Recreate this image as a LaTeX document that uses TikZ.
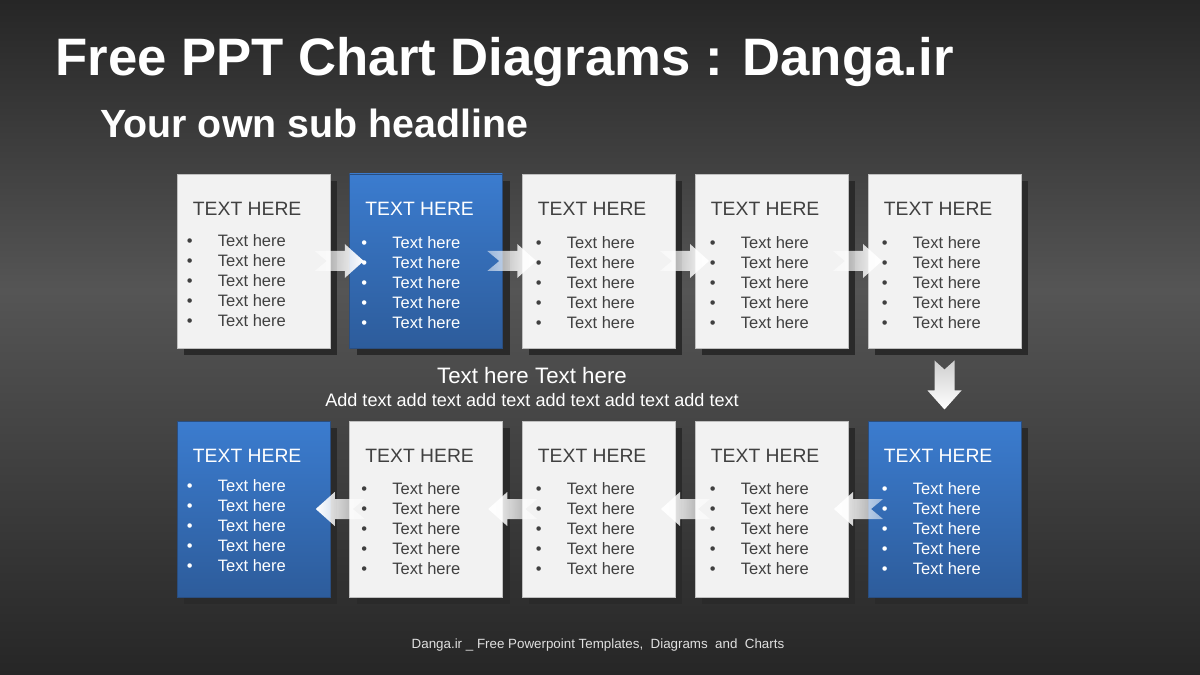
\documentclass[tikz,border=0pt]{standalone}
\usepackage{fontspec}
\setmainfont{Liberation Sans}
\usetikzlibrary{calc,fadings}
\definecolor{bgtop}{HTML}{262626}
\definecolor{bgmid}{HTML}{555555}
\definecolor{bgbot}{HTML}{262626}
\definecolor{lightfill}{HTML}{F2F2F2}
\definecolor{boxedge}{HTML}{BFBFBF}
\definecolor{bluetop}{HTML}{3B7CCF}
\definecolor{bluebot}{HTML}{2D5C9B}
\definecolor{blueedge}{HTML}{2A4E80}
\definecolor{shadowc}{HTML}{2A2A2A}
\definecolor{darktext}{HTML}{404040}
\definecolor{arrowtop}{HTML}{CFCFCF}
\pgfdeclareverticalshading{bgshade}{100bp}{color(0bp)=(bgbot); color(25bp)=(bgbot); color(53.5bp)=(bgmid); color(75bp)=(bgtop); color(100bp)=(bgtop)}
\tikzfading[name=fadeR, left color=transparent!50, right color=transparent!0]
\tikzfading[name=fadeL, left color=transparent!0, right color=transparent!50]
% #1 name, #2 text colour, #3 first baseline offset, #4 text x offset
\newcommand\fillbox[4]{%
  \node[anchor=base west, text=#2, font=\fontsize{11}{13}\selectfont, inner sep=0] (#1-t) at ($(#1.north west)+(16,42)$) {TEXT HERE};
  \foreach \k in {0,...,4} {
    \node[anchor=base west, text=#2, font=\fontsize{9.4}{11}\selectfont, inner sep=0] (#1-b\k) at ($(#1.north west)+(#4-31,#3+20*\k)$) {•};
    \node[anchor=base west, text=#2, font=\fontsize{9.4}{11}\selectfont, inner sep=0] (#1-x\k) at ($(#1.north west)+(#4,#3+20*\k)$) {Text here};
  }%
}
% #1 name, #2 style, #3 x, #4 y, #5 height
\newcommand\boxat[5]{%
  \fill[shadowc] ({#3-76.5+7},{#4-#5/2+7}) rectangle ({#3+76.5+7},{#4+#5/2+7});
  \node[#2, minimum height=#5*0.02cm] (#1) at (#3,#4) {};
}
\begin{document}
\begin{tikzpicture}[x=0.02cm,y=-0.02cm,
  boxbase/.style={minimum width=3.06cm, inner sep=0, line width=0.5pt},
  lbox/.style={boxbase, draw=boxedge, fill=lightfill},
  bbox/.style={boxbase, draw=blueedge, top color=bluetop, bottom color=bluebot},
  arrowR/.style={fill=white, path fading=fadeR},
  arrowL/.style={fill=white, path fading=fadeL},
  arrowD/.style={top color=arrowtop, bottom color=white}]
\useasboundingbox (0,0) rectangle (1200,675);
\shade[shading=bgshade] (0,0) rectangle (1200,675);

\node[anchor=base west, text=white, font=\fontsize{30}{36}\selectfont\bfseries, inner sep=0] (title) at (55,76) {Free PPT Chart Diagrams : Danga.ir};
\node[anchor=base west, text=white, font=\fontsize{22.4}{27}\selectfont\bfseries, inner sep=0] (sub) at (100,138) {Your own sub headline};

% top row
\boxat{t1}{lbox}{253.5}{261}{174}
\boxat{t2}{bbox}{426}{261}{174}
\boxat{t3}{lbox}{598.5}{261}{174}
\boxat{t4}{lbox}{771.5}{261}{174}
\boxat{t5}{lbox}{944.5}{261}{174}
% bottom row
\boxat{u1}{bbox}{253.5}{509}{176}
\boxat{u2}{lbox}{426}{509}{176}
\boxat{u3}{lbox}{598.5}{509}{176}
\boxat{u4}{lbox}{771.5}{509}{176}
\boxat{u5}{bbox}{944.5}{509}{176}

\fillbox{t1}{darktext}{73}{41}
\fillbox{t2}{white}{75}{43}
\fillbox{t3}{darktext}{75}{45}
\fillbox{t4}{darktext}{75}{46}
\fillbox{t5}{darktext}{75}{45}
\fillbox{u1}{white}{71}{41}
\fillbox{u2}{darktext}{74}{43}
\fillbox{u3}{darktext}{74}{45}
\fillbox{u4}{darktext}{74}{46}
\fillbox{u5}{white}{74}{45}

% right arrows (top row)
\foreach \a/\b in {t1/t2,t2/t3,t3/t4,t4/t5} {
  \fill[arrowR, shift={($(\a.east)!0.5!(\b.west)$)}]
    (-25,-10) -- (5,-10) -- (5,-17) -- (24,0) -- (5,17) -- (5,10) -- (-25,10) -- (-13,0) -- cycle;
}
% left arrows (bottom row)
\foreach \a/\b in {u1/u2,u2/u3,u3/u4,u4/u5} {
  \fill[arrowL, shift={($(\a.east)!0.5!(\b.west)$)}]
    (25,-10) -- (-5,-10) -- (-5,-17) -- (-24,0) -- (-5,17) -- (-5,10) -- (25,10) -- (13,0) -- cycle;
}
% down arrow
\shade[arrowD, shift={($(t5.south)!0.5!(u5.north)$)}]
  (-10,-24) -- (0,-15) -- (10,-24) -- (10,6) -- (17,6) -- (0,25) -- (-17,6) -- (-10,6) -- cycle;

\node[text=white, font=\fontsize{12.7}{15}\selectfont, inner sep=0] (mid1) at (532,376) {Text here Text here};
\node[text=white, font=\fontsize{10.3}{12}\selectfont, inner sep=0] (mid2) at (532,400) {Add text add text add text add text add text add text};
\node[text=white!88!black, font=\fontsize{7.6}{9}\selectfont, inner sep=0] (foot) at (598,645) {Danga.ir \_ Free Powerpoint Templates, \ Diagrams \ and \ Charts};
\end{tikzpicture}
\end{document}
